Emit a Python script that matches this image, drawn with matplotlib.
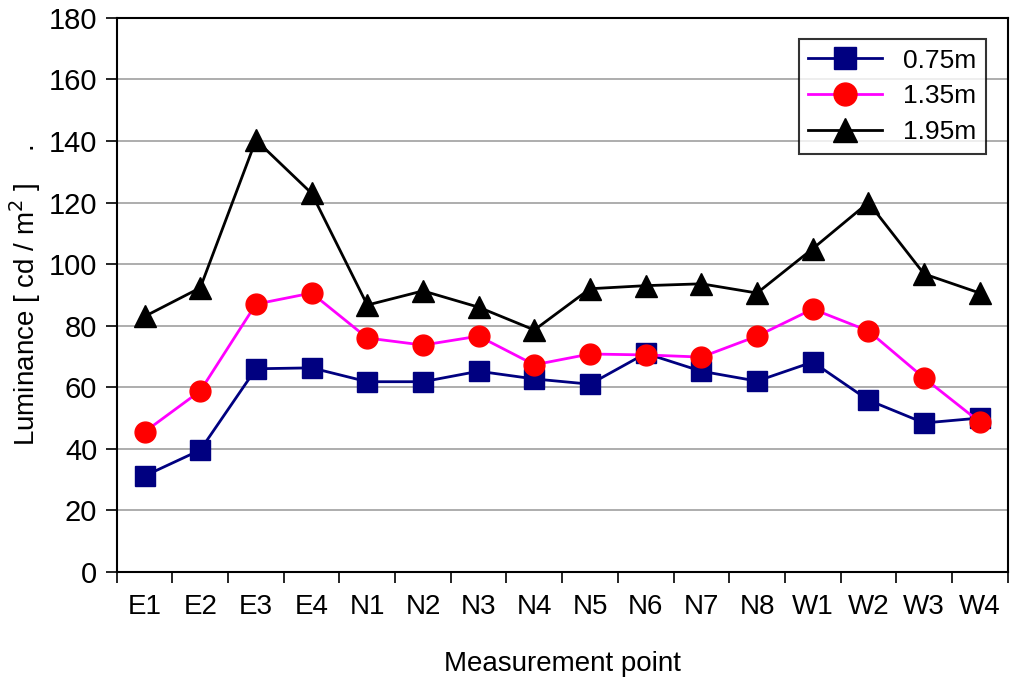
import matplotlib.pyplot as plt
import numpy as np

plt.rcParams['font.family'] = ['Liberation Sans', 'DejaVu Sans']

points = ["E1", "E2", "E3", "E4", "N1", "N2", "N3", "N4",
          "N5", "N6", "N7", "N8", "W1", "W2", "W3", "W4"]
h075 = [31.2, 39.6, 66.0, 66.3, 61.8, 61.8, 65.2, 62.7,
        61.0, 71.0, 65.2, 62.0, 68.2, 55.8, 48.4, 50.0]
h135 = [45.5, 58.8, 87.0, 90.6, 76.0, 73.7, 76.6, 67.3,
        70.8, 70.5, 69.8, 76.6, 85.4, 78.3, 63.0, 48.7]
h195 = [83.0, 92.3, 140.3, 123.0, 86.7, 91.3, 86.0, 78.6,
        92.0, 93.0, 93.6, 90.6, 105.0, 120.0, 96.8, 90.6]

fig = plt.figure(figsize=(10.24, 6.85), dpi=100)
ax = fig.add_axes([0.114, 0.165, 0.870, 0.809])

x = np.arange(len(points))
ax.plot(x, h075, "-s", color="#000080", lw=2, ms=14, label="0.75m")
ax.plot(x, h135, "-o", color="#ff00ff", mfc="#ff0000", mec="#ff0000",
        lw=2, ms=15, label="1.35m")
ax.plot(x, h195, "-^", color="black", lw=2, ms=16, label="1.95m")

ax.set_xlim(-0.5, len(points) - 0.5)
ax.set_ylim(0, 180)
ax.set_yticks(range(0, 181, 20))
ax.set_xticks(x)
ax.set_xticklabels(points)
ax.set_xticks(np.arange(-0.5, len(points), 1.0), minor=True)
ax.tick_params(axis="x", which="major", length=0, pad=16, labelsize=20)
ax.tick_params(axis="x", which="minor", length=8, width=1.2, direction="out")
ax.tick_params(axis="y", length=8, width=1.2, direction="out", labelsize=21, pad=6)
ax.yaxis.grid(True, color="#a0a0a0", lw=1.2)
ax.set_axisbelow(True)
for s in ax.spines.values():
    s.set_linewidth(1.5)

ax.set_xlabel("Measurement point", fontsize=20, labelpad=22)
ax.set_ylabel("Luminance [ cd / m$^2$ ]    .", fontsize=20, labelpad=4)

leg = ax.legend(loc="upper right", fontsize=19, frameon=True, fancybox=False,
                edgecolor="black", borderpad=0.35, labelspacing=0.45,
                handlelength=2.8, bbox_to_anchor=(0.99, 0.985),
                markerscale=1.1)
leg.get_frame().set_linewidth(1.5)

fig.savefig("out.png")
